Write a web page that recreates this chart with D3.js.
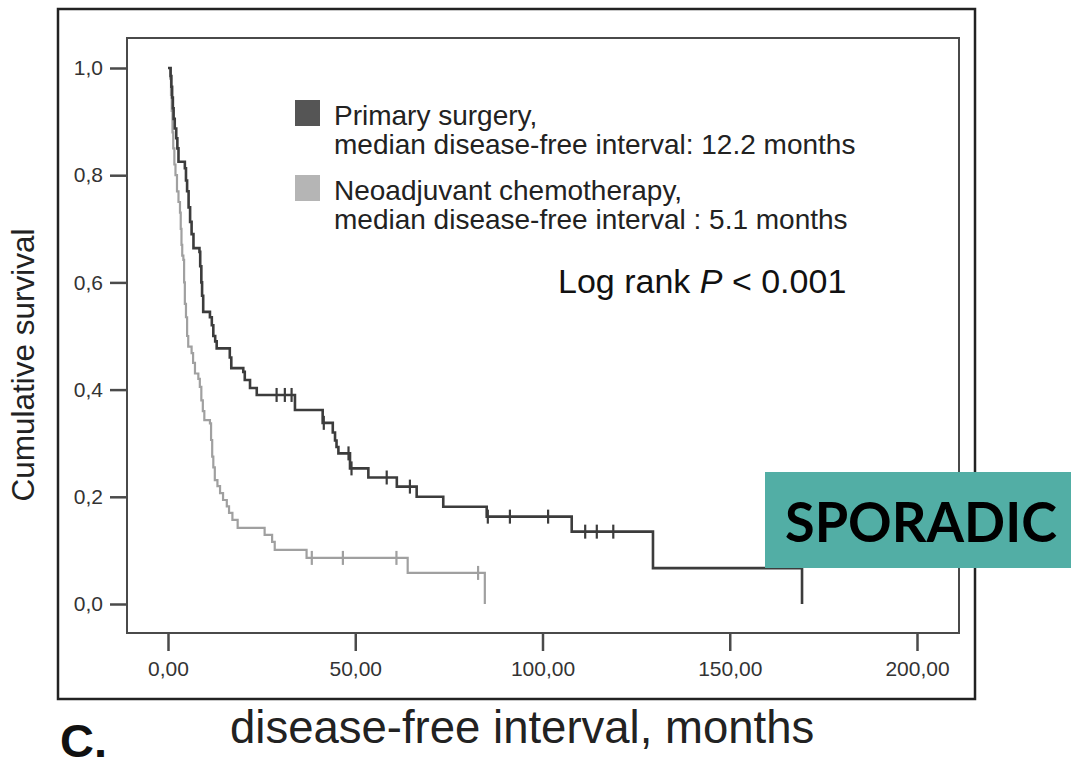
<!DOCTYPE html>
<html>
<head>
<meta charset="utf-8">
<script src="https://cdn.jsdelivr.net/npm/d3@7"></script>
<style>
  html, body { margin: 0; padding: 0; background: #fff; }
  svg { display: block; }
  text { font-family: "Liberation Sans", Arial, sans-serif; }
</style>
</head>
<body>
<svg id="chart" width="1071" height="766"></svg>
<script>
// ---- Data ----
const primaryTimes = [0.7,0.9,1.1,1.3,1.5,1.8,2.2,2.5,2.8,4.5,4.8,5.1,5.5,5.9,6.3,6.8,8.4,8.6,8.9,9.1,9.4,11.2,11.7,12.1,12.6,13.0,16.5,16.9,20.1,20.5,21.9,23.7,33.9,41.3,44.0,44.6,45.0,45.5,48.6,53.5,61.1,66.4,73.5,85.1,107.8,129.5,169.3];
const primarySurv  = [.985,.965,.945,.925,.905,.887,.869,.85,.825,.813,.79,.77,.74,.713,.69,.664,.657,.63,.60,.575,.545,.535,.52,.50,.49,.477,.46,.44,.433,.418,.403,.39,.362,.338,.32,.305,.293,.281,.253,.236,.219,.200,.1815,.163,.135,.067,0];
const primaryCensors = [29.0,31.2,33.0,41.6,48.2,49.0,58.4,64.6,85.4,91.3,101.5,111.4,114.5,118.9];

const neoTimes = [0.6,0.8,1.0,1.2,1.4,1.7,2.0,2.4,2.8,3.2,3.4,3.6,3.8,4.1,4.3,4.5,4.8,5.1,5.4,6.3,6.7,7.2,8.1,8.5,8.9,9.3,9.7,11.2,11.5,11.8,12.1,12.5,13.2,13.9,14.7,15.7,16.3,17.2,18.6,25.8,27.8,28.5,37.0,64.0,84.6];
const neoSurv  = [.98,.95,.92,.88,.85,.82,.80,.77,.75,.73,.70,.67,.65,.642,.60,.56,.535,.50,.48,.468,.45,.43,.42,.405,.38,.36,.343,.337,.306,.275,.255,.231,.22,.207,.194,.182,.17,.157,.142,.129,.116,.101,.086,.058,0];
const neoCensors = [38.4,46.7,61.0,82.8];

const xTicks = [0, 50, 100, 150, 200];
const xTickLabels = ["0,00", "50,00", "100,00", "150,00", "200,00"];
const yTicks = [0, 0.2, 0.4, 0.6, 0.8, 1.0];
const yTickLabels = ["0,0", "0,2", "0,4", "0,6", "0,8", "1,0"];

const legendLabels = [
  ["Primary surgery,", "median disease-free interval: 12.2 months"],
  ["Neoadjuvant chemotherapy,", "median disease-free interval : 5.1 months"]
];
const seriesColors = ["#3c3c3c", "#a0a0a0"];
const legendColors = ["#555555", "#b5b5b5"];

// ---- Drawing ----
const svg = d3.select("#chart");
svg.append("rect").attr("width", 1071).attr("height", 766).attr("fill", "#fff");

const x = d3.scaleLinear().domain([0, 200]).range([168, 917]);
const y = d3.scaleLinear().domain([0, 1]).range([604, 68]);

// outer frame
svg.append("rect").attr("x", 58).attr("y", 9).attr("width", 917).attr("height", 690)
  .attr("fill", "none").attr("stroke", "#222").attr("stroke-width", 2.5);

// inner plot frame
const inner = {x0: 127, y0: 38, x1: 959, y1: 633};
svg.append("rect").attr("x", inner.x0).attr("y", inner.y0)
  .attr("width", inner.x1 - inner.x0).attr("height", inner.y1 - inner.y0)
  .attr("fill", "none").attr("stroke", "#4a4a4a").attr("stroke-width", 2);

// y axis
const yAxis = d3.axisLeft(y).tickValues(yTicks).tickSize(17).tickPadding(7)
  .tickFormat((d, i) => yTickLabels[i]);
const gy = svg.append("g").attr("transform", `translate(${inner.x0},0)`).call(yAxis);
gy.select(".domain").remove();
gy.selectAll("line").attr("stroke", "#4a4a4a").attr("stroke-width", 2.5);
gy.selectAll("text").attr("fill", "#333").style("font-size", "21px")
  .style("font-family", '"Liberation Sans", Arial, sans-serif');

// x axis
const xAxis = d3.axisBottom(x).tickValues(xTicks).tickSize(17).tickPadding(10)
  .tickFormat((d, i) => xTickLabels[i]);
const gx = svg.append("g").attr("transform", `translate(0,${inner.y1 + 1})`).call(xAxis);
gx.select(".domain").remove();
gx.selectAll("line").attr("stroke", "#4a4a4a").attr("stroke-width", 2.5);
gx.selectAll("text").attr("fill", "#333").style("font-size", "21px")
  .style("font-family", '"Liberation Sans", Arial, sans-serif');

// curves
const line = d3.line().x(d => x(d[0])).y(d => y(d[1])).curve(d3.curveStepAfter);
function survAt(times, surv, t) {
  let s = 1;
  for (let i = 0; i < times.length; i++) { if (times[i] <= t) s = surv[i]; }
  return s;
}
const series = [
  {times: neoTimes, surv: neoSurv, cens: neoCensors, color: seriesColors[1], w: 2.2},
  {times: primaryTimes, surv: primarySurv, cens: primaryCensors, color: seriesColors[0], w: 2.6}
];
series.forEach(s => {
  const pts = [[0, 1]].concat(s.times.map((t, i) => [t, s.surv[i]]));
  svg.append("path").attr("d", line(pts)).attr("fill", "none")
    .attr("stroke", s.color).attr("stroke-width", s.w);
  svg.append("g").selectAll("line").data(s.cens).join("line")
    .attr("x1", d => x(d)).attr("x2", d => x(d))
    .attr("y1", d => y(survAt(s.times, s.surv, d)) - 7)
    .attr("y2", d => y(survAt(s.times, s.surv, d)) + 7)
    .attr("stroke", s.color).attr("stroke-width", 2.2);
});

// legend
const legendY = [100, 175];
legendLabels.forEach((lab, i) => {
  svg.append("rect").attr("x", 295).attr("y", legendY[i]).attr("width", 25).attr("height", 26)
    .attr("fill", legendColors[i]);
  svg.append("text").attr("x", 334).attr("y", legendY[i] + 25).attr("fill", "#222")
    .style("font-size", "28px").text(lab[0]);
  svg.append("text").attr("x", 334).attr("y", legendY[i] + 54).attr("fill", "#222")
    .style("font-size", "28px").text(lab[1]);
});

// log rank
const lr = svg.append("text").attr("x", 558).attr("y", 293).attr("fill", "#111").style("font-size", "34px");
lr.append("tspan").text("Log rank ");
lr.append("tspan").style("font-style", "italic").text("P");
lr.append("tspan").text(" < 0.001");

// axis titles
svg.append("text").attr("transform", "translate(34,365) rotate(-90)").attr("text-anchor", "middle")
  .attr("fill", "#222").style("font-size", "31.5px").text("Cumulative survival");
svg.append("text").attr("x", 230).attr("y", 743).attr("fill", "#222")
  .style("font-size", "45.5px").text("disease-free interval, months");
svg.append("text").attr("x", 60).attr("y", 757).attr("fill", "#111")
  .style("font-size", "47px").style("font-weight", "bold").text("C.");

// SPORADIC box
svg.append("rect").attr("x", 765).attr("y", 472).attr("width", 306).attr("height", 96)
  .attr("fill", "#52aea5");
svg.append("text").attr("x", 785).attr("y", 542).attr("fill", "#000")
  .style("font-family", "Lato, 'Open Sans', sans-serif").style("font-weight", "bold")
  .style("font-size", "55px").attr("textLength", 272).attr("lengthAdjust", "spacingAndGlyphs")
  .text("SPORADIC");
</script>
</body>
</html>
